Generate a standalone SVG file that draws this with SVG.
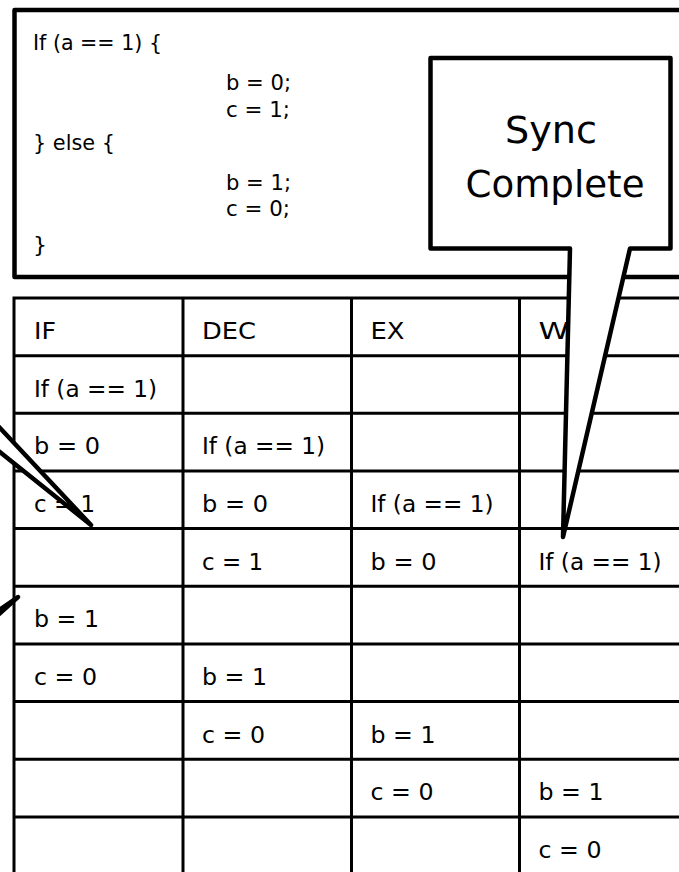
<svg xmlns="http://www.w3.org/2000/svg" width="679" height="872" viewBox="0 0 679 872">
<style>
.t{font-family:"DejaVu Sans","Liberation Sans",sans-serif;font-size:23px;fill:#000}
.c{font-family:"DejaVu Sans","Liberation Sans",sans-serif;font-size:22px;fill:#000}
.s{font-family:"DejaVu Sans","Liberation Sans",sans-serif;font-size:38px;fill:#000;text-anchor:middle}
.grid{stroke:#000;stroke-width:3;fill:none}
.box{stroke:#000;stroke-width:4.5;fill:#fff;stroke-linejoin:round}
</style>
<rect width="679" height="872" fill="#fff"/>
<g id="code-box">
<rect class="box" x="14.5" y="10" width="700" height="267"/>
<text class="c" x="33" y="50" textLength="129" lengthAdjust="spacingAndGlyphs">If (a == 1) {</text>
<text class="c" x="226" y="90" textLength="65" lengthAdjust="spacingAndGlyphs">b = 0;</text>
<text class="c" x="226" y="117" textLength="64" lengthAdjust="spacingAndGlyphs">c = 1;</text>
<text class="c" x="33" y="150" textLength="82" lengthAdjust="spacingAndGlyphs">} else {</text>
<text class="c" x="226" y="190" textLength="65" lengthAdjust="spacingAndGlyphs">b = 1;</text>
<text class="c" x="226" y="216" textLength="64" lengthAdjust="spacingAndGlyphs">c = 0;</text>
<text class="c" x="33" y="252">}</text>
</g>
<g id="table">
<path class="grid" d="M14 298H700M14 355.65H700M14 413.3H700M14 471H700M14 528.6H700M14 586.3H700M14 643.9H700M14 701.6H700M14 759.2H700M14 816.9H700M14 296.5V880M183 296.5V880M351.5 296.5V880M519.5 296.5V880"/>
<text class="t" x="34" y="339" textLength="22" lengthAdjust="spacingAndGlyphs">IF</text>
<text class="t" x="202" y="339" textLength="54" lengthAdjust="spacingAndGlyphs">DEC</text>
<text class="t" x="370.5" y="339" textLength="34" lengthAdjust="spacingAndGlyphs">EX</text>
<text class="t" x="538.5" y="339" textLength="52" lengthAdjust="spacingAndGlyphs">WB</text>
<text class="t" x="34" y="396.6" textLength="123" lengthAdjust="spacingAndGlyphs">If (a == 1)</text>
<text class="t" x="34" y="454.3" textLength="66" lengthAdjust="spacingAndGlyphs">b = 0</text>
<text class="t" x="202" y="454.3" textLength="123" lengthAdjust="spacingAndGlyphs">If (a == 1)</text>
<text class="t" x="34" y="512" textLength="61" lengthAdjust="spacingAndGlyphs">c = 1</text>
<text class="t" x="202" y="512" textLength="66" lengthAdjust="spacingAndGlyphs">b = 0</text>
<text class="t" x="370.5" y="512" textLength="123" lengthAdjust="spacingAndGlyphs">If (a == 1)</text>
<text class="t" x="202" y="569.6" textLength="61" lengthAdjust="spacingAndGlyphs">c = 1</text>
<text class="t" x="370.5" y="569.6" textLength="66" lengthAdjust="spacingAndGlyphs">b = 0</text>
<text class="t" x="538.5" y="569.6" textLength="123" lengthAdjust="spacingAndGlyphs">If (a == 1)</text>
<text class="t" x="34" y="627.3" textLength="65" lengthAdjust="spacingAndGlyphs">b = 1</text>
<text class="t" x="34" y="684.9" textLength="63" lengthAdjust="spacingAndGlyphs">c = 0</text>
<text class="t" x="202" y="684.9" textLength="65" lengthAdjust="spacingAndGlyphs">b = 1</text>
<text class="t" x="202" y="742.6" textLength="63" lengthAdjust="spacingAndGlyphs">c = 0</text>
<text class="t" x="370.5" y="742.6" textLength="65" lengthAdjust="spacingAndGlyphs">b = 1</text>
<text class="t" x="370.5" y="800.2" textLength="63" lengthAdjust="spacingAndGlyphs">c = 0</text>
<text class="t" x="538.5" y="800.2" textLength="65" lengthAdjust="spacingAndGlyphs">b = 1</text>
<text class="t" x="538.5" y="857.9" textLength="63" lengthAdjust="spacingAndGlyphs">c = 0</text>
</g>
<g id="callout-sync">
<path class="box" d="M430.5 58H670.5V248.5H630L563 537L570 248.5H430.5Z"/>
<text class="s" x="551" y="143" textLength="92" lengthAdjust="spacingAndGlyphs">Sync</text>
<text class="s" x="555" y="197" textLength="179" lengthAdjust="spacingAndGlyphs">Complete</text>
</g>
<g id="callout-left-upper">
<path class="box" d="M-20 406.7L91 525L-20 436Z"/>
</g>
<g id="callout-left-lower">
<path class="box" d="M-30 630L18 597L-30 640Z"/>
</g>
<g id="connectors"/>
</svg>
